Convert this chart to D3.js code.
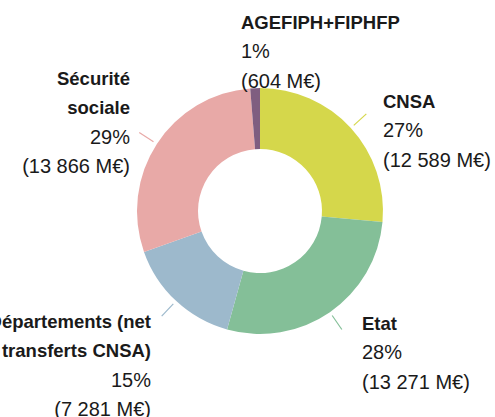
<!DOCTYPE html>
<html>
<head>
<meta charset="utf-8">
<script src="https://cdn.jsdelivr.net/npm/d3@7"></script>
<style>
  body { margin: 0; background: #fff; }
  text { font-family: "Liberation Sans", Arial, sans-serif; fill: #1a1a1a; }
</style>
</head>
<body>
<script>
// data
var categories = ['CNSA', 'Etat', 'Départements (net|de transferts CNSA)', 'Sécurité|sociale', 'AGEFIPH+FIPHFP'];
var values = [12589, 13271, 7281, 13866, 604];
var pctLabels = ['27%', '28%', '15%', '29%', '1%'];
var amountLabels = ['(12 589 M€)', '(13 271 M€)', '(7 281 M€)', '(13 866 M€)', '(604 M€)'];
var colors = ['#d5d74b', '#84bf98', '#9db9cc', '#e8a9a7', '#7f5e80'];

var width = 495, height = 417;
var cx = 260, cy = 211;
var outerR = 123, innerR = 62;

var svg = d3.select('body').append('svg')
  .attr('width', width)
  .attr('height', height);

var pie = d3.pie().sort(null).value(function(d) { return d; });
var arcs = pie(values);

var arc = d3.arc().innerRadius(innerR).outerRadius(outerR);

var g = svg.append('g').attr('transform', 'translate(' + cx + ',' + cy + ')');

g.selectAll('path.slice')
  .data(arcs)
  .enter()
  .append('path')
    .attr('class', 'slice')
    .attr('d', arc)
    .style('fill', function(d, i) { return colors[i]; });

// leader lines (not for the tiny slice)
var lineStart = d3.arc().innerRadius(127).outerRadius(127);
var lineEnd = d3.arc().innerRadius(144).outerRadius(144);
g.selectAll('line.leader')
  .data(arcs.filter(function(d) { return d.index !== 4; }))
  .enter()
  .append('line')
    .attr('class', 'leader')
    .attr('x1', function(d) { return lineStart.centroid(d)[0]; })
    .attr('y1', function(d) { return lineStart.centroid(d)[1]; })
    .attr('x2', function(d) { return lineEnd.centroid(d)[0]; })
    .attr('y2', function(d) { return lineEnd.centroid(d)[1]; })
    .style('stroke', function(d) { return colors[d.index]; })
    .style('stroke-width', 1.2);

// label layout: anchor x, first baseline, text-anchor
var labelPos = [
  {x: 383, y: 108, anchor: 'start'},
  {x: 362, y: 330, anchor: 'start'},
  {x: 151, y: 328, anchor: 'end'},
  {x: 130, y: 85, anchor: 'end'},
  {x: 241, y: 29, anchor: 'start'}
];
var lh = 29.3;

categories.forEach(function(cat, i) {
  var p = labelPos[i];
  var lines = cat.split('|');
  var t = svg.append('text')
    .attr('x', p.x)
    .attr('y', p.y)
    .attr('text-anchor', p.anchor);
  lines.forEach(function(l, j) {
    t.append('tspan')
      .attr('x', p.x)
      .attr('dy', j === 0 ? 0 : lh)
      .style('font-weight', 'bold')
      .style('font-size', '18.5px')
      .text(l);
  });
  t.append('tspan')
    .attr('x', p.x)
    .attr('dy', lh)
    .style('font-size', '20px')
    .text(pctLabels[i]);
  t.append('tspan')
    .attr('x', p.x)
    .attr('dy', lh)
    .style('font-size', '20px')
    .text(amountLabels[i]);
});
</script>
</body>
</html>
